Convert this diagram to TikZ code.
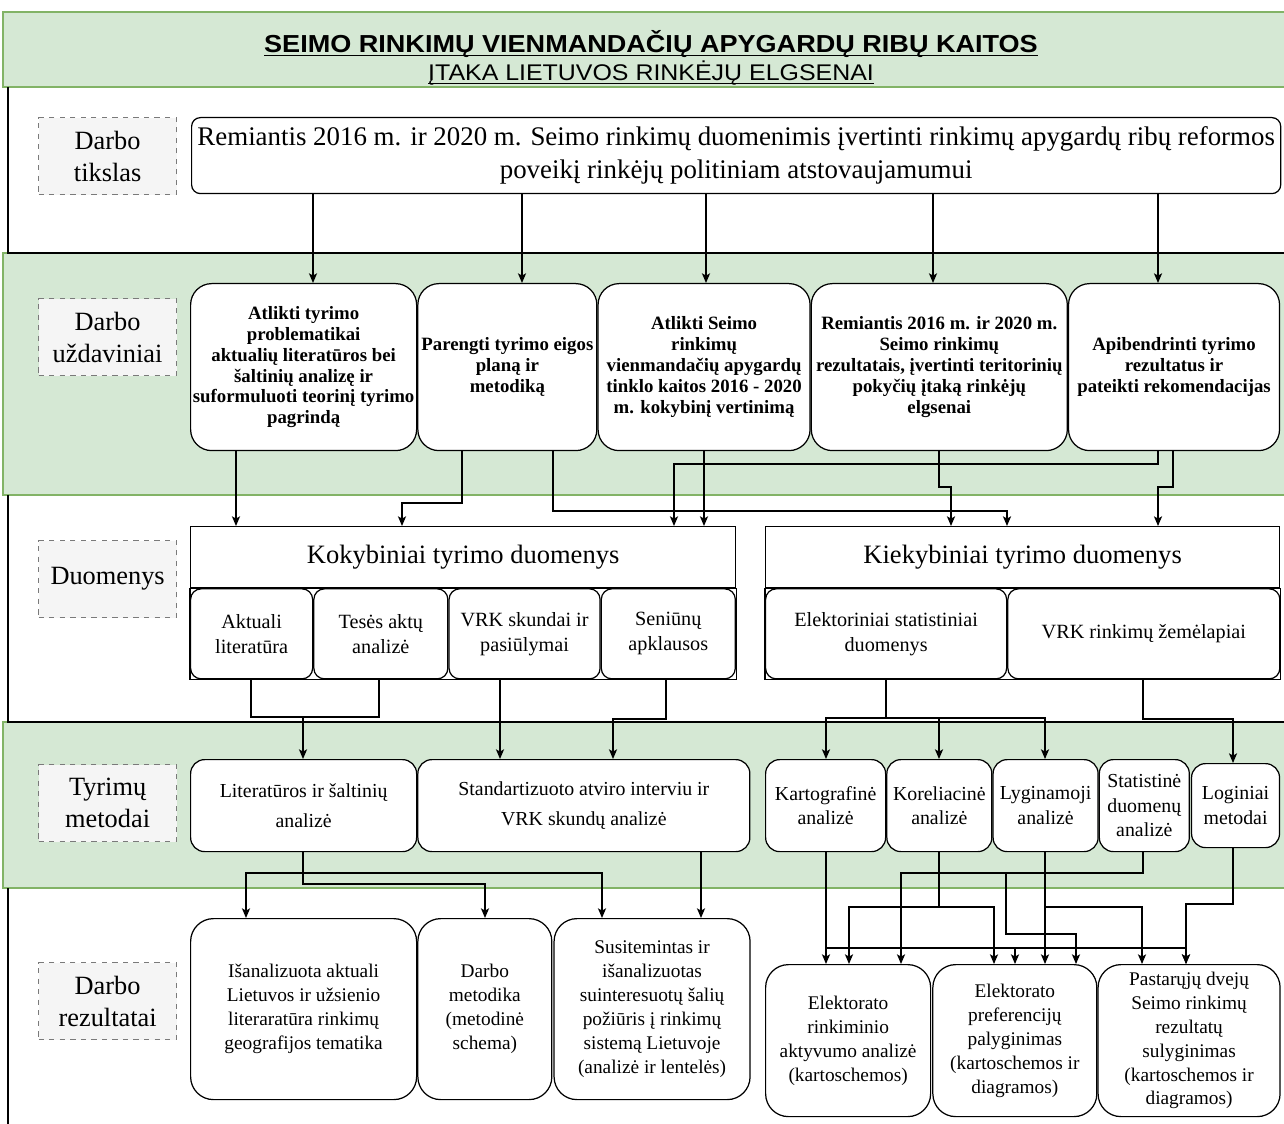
\documentclass[tikz,border=0pt]{standalone}
\usepackage{fontspec}
\setmainfont{Liberation Serif}
\newfontfamily\headfont[FakeStretch=1.1]{Liberation Sans}
\usepackage{tikz}
\usetikzlibrary{arrows.meta,calc,positioning}

\newlength\px
\setlength\px{0.02cm}

\definecolor{bandfill}{HTML}{D5E8D4}
\definecolor{bandline}{HTML}{82B366}
\definecolor{lblfill}{HTML}{F5F5F5}
\definecolor{lbldraw}{HTML}{7A7A7A}

\newcommand\ulx[1]{\underline{\smash{#1}\vphantom{A}}}
\newcommand\titlesize{\headfont\fontsize{14}{15.9}\selectfont\lineskiplimit-20pt\relax}

\tikzset{%
	band/.style     = {fill=bandfill, draw=bandline, line width=1.1pt}, % green row
	rowline/.style  = {draw=black, line width=1.2pt}, % white row border
	rowlabel/.style = {draw=lbldraw, dashed, fill=lblfill, anchor=north west, minimum width=138\px, minimum height=77\px, align=center, font=\fontsize{15}{18.1}\selectfont}, % Row title
	goalbox/.style  = {draw, fill=white, rounded corners=5pt, anchor=north west, align=center, font=\fontsize{15.3}{18.7}\selectfont},
	task/.style     = {draw, fill=white, rounded corners=12pt, anchor=north west, minimum height=167\px, align=center, inner sep=1pt, font=\bfseries\fontsize{10.7}{11.9}\selectfont},
	head/.style     = {draw, fill=white, rectangle, anchor=north west, minimum height=61\px, font=\fontsize{15.1}{18}\selectfont},
	src/.style      = {draw, fill=white, rounded corners=6pt, anchor=north west, minimum height=90\px, align=center, inner sep=1pt, font=\fontsize{11.5}{14.2}\selectfont},
	meth/.style     = {draw, fill=white, rounded corners=8pt, anchor=north west, minimum height=92\px, align=center, inner sep=1pt, font=\fontsize{11.3}{14}\selectfont},
	res/.style      = {draw, fill=white, rounded corners=13pt, anchor=north west, align=center, inner sep=1pt, font=\fontsize{11}{13.6}\selectfont},
}

\begin{document}
\begin{tikzpicture}[x=0.02cm, y=-0.02cm, line width=0.7pt, >={Stealth[length=5.5pt,width=4.6pt,inset=1.3pt]}]
\useasboundingbox (0,0) rectangle (1284,1124);

% rows
\path[band] (3,12) rectangle (1300,87);
\path[band] (3,253) rectangle (1300,495);
\path[band] (3,722) rectangle (1300,888);
\draw[rowline] (8,87) -- (8,253) -- (1300,253);
\draw[rowline] (8,495) -- (8,722) -- (1300,722);
\draw[rowline] (8,888) -- (8,1130);

\node[align=center, font=\titlesize] (title) at (651,60)
	{\ulx{\bfseries SEIMO RINKIMŲ VIENMANDAČIŲ APYGARDŲ RIBŲ KAITOS}\\ \ulx{\fontsize{12.9}{15.9}\selectfont ĮTAKA LIETUVOS RINKĖJŲ ELGSENAI}};

\node[rowlabel] (lbtikslas) at (38,117) {Darbo\\ tikslas};
\node[rowlabel] (lbuzd) at (38,298) {Darbo\\ uždaviniai};
\node[rowlabel] (lbduom) at (38,540) {Duomenys};
\node[rowlabel] (lbmet) at (38,764) {Tyrimų\\ metodai};
\node[rowlabel] (lbrez) at (38,962) {Darbo\\ rezultatai};

\node[goalbox, minimum width=1088\px, minimum height=76\px] (goal) at (191,117)
	{Remiantis 2016 m. ir 2020 m. Seimo rinkimų duomenimis įvertinti rinkimų apygardų ribų reformos\\ poveikį rinkėjų politiniam atstovaujamumui};

% uzdaviniai
\node[task, minimum width=226\px] (t1) at (190,283) {Atlikti tyrimo\\ problematikai\\ aktualių literatūros bei\\ šaltinių analizę ir\\ suformuluoti teorinį tyrimo\\ pagrindą};
\node[task, minimum width=179\px, right=0pt of t1] (t2) {Parengti tyrimo eigos\\ planą ir\\ metodiką};
\node[task, minimum width=212\px, right=0pt of t2] (t3) {Atlikti Seimo\\ rinkimų\\ vienmandačių apygardų\\ tinklo kaitos 2016 - 2020\\ m. kokybinį vertinimą};
\node[task, minimum width=256\px, right=0pt of t3] (t4) {Remiantis 2016 m. ir 2020 m.\\ Seimo rinkimų\\ rezultatais, įvertinti teritorinių\\ pokyčių įtaką rinkėjų\\ elgsenai};
\node[task, minimum width=211\px, right=0pt of t4] (t5) {Apibendrinti tyrimo\\ rezultatus ir\\ pateikti rekomendacijas};

% duomenys
\node[head, minimum width=545\px] (kok) at (190,526) {Kokybiniai tyrimo duomenys};
\node[head, minimum width=514\px] (kiek) at (765,526) {Kiekybiniai tyrimo duomenys};
\node[src, minimum width=122\px] (d1) at (kok.south west) {Aktuali\\ literatūra};
\node[src, minimum width=134\px, right=0pt of d1] (d2) {Tesės aktų\\ analizė};
\node[src, minimum width=151\px, right=0pt of d2] (d3) {VRK skundai ir\\ pasiūlymai};
\node[src, minimum width=134\px, right=0pt of d3] (d4) {Seniūnų\\ apklausos};
\node[src, minimum width=241\px] (e1) at (kiek.south west) {Elektoriniai statistiniai\\ duomenys};
\node[src, minimum width=272\px, right=0pt of e1] (e2) {VRK rinkimų žemėlapiai};
\draw (kok.south west) rectangle (kok.east |- d4.south);
\draw (kiek.south west) rectangle (kiek.east |- e2.south);

% metodai
\node[meth, minimum width=226\px, font=\fontsize{11.3}{17}\selectfont] (m1) at (190,759) {Literatūros ir šaltinių\\ analizė};
\node[meth, minimum width=332\px, font=\fontsize{11.3}{17}\selectfont, right=0pt of m1] (m2) {Standartizuoto atviro interviu ir\\ VRK skundų analizė};
\node[meth, minimum width=120\px] (k1) at (765,759) {Kartografinė\\ analizė};
\node[meth, minimum width=105\px, right=0pt of k1] (k2) {Koreliacinė\\ analizė};
\node[meth, minimum width=105\px, right=0pt of k2] (k3) {Lyginamoji\\ analizė};
\node[meth, minimum width=90\px, right=0pt of k3] (k4) {Statistinė\\ duomenų\\ analizė};
\node[meth, minimum width=88\px, minimum height=84\px, right=1\px of k4] (k5) {Loginiai\\ metodai};

% rezultatai
\node[res, minimum width=226\px, minimum height=181\px] (r1) at (190,918) {Išanalizuota aktuali\\ Lietuvos ir užsienio\\ literaratūra rinkimų\\ geografijos tematika};
\node[res, minimum width=134\px, minimum height=181\px, right=0pt of r1] (r2) {Darbo\\ metodika\\ (metodinė\\ schema)};
\node[res, minimum width=196\px, minimum height=181\px, right=1\px of r2] (r3) {Susitemintas ir\\ išanalizuotas\\ suinteresuotų šalių\\ požiūris į rinkimų\\ sistemą Lietuvoje\\ (analizė ir lentelės)};
\node[res, minimum width=165\px, minimum height=152\px] (q1) at (765,964) {Elektorato\\ rinkiminio\\ aktyvumo analizė\\ (kartoschemos)};
\node[res, minimum width=164\px, minimum height=152\px, right=1\px of q1] (q2) {Elektorato\\ preferencijų\\ palyginimas\\ (kartoschemos ir\\ diagramos)};
\node[res, minimum width=182\px, minimum height=152\px, right=0pt of q2] (q3) {Pastarųjų dvejų\\ Seimo rinkimų\\ rezultatų\\ sulyginimas\\ (kartoschemos ir\\ diagramos)};

% tikslas -> uzdaviniai
\foreach \x/\t in {313/t1, 522/t2, 706/t3, 933/t4, 1158/t5}
	\draw[->] (\x,0 |- goal.south) -- (\x,0 |- \t.north);

% uzdaviniai -> duomenys
\draw[->] (236,0 |- t1.south) -- (236,0 |- kok.north);
\draw[->] (462,0 |- t2.south) |- (402,503) -- (402,0 |- kok.north);
\draw[->] (553,0 |- t2.south) |- (1007,511) -- (1007,0 |- kiek.north);
\draw[->] (704,0 |- t3.south) -- (704,0 |- kok.north);
\draw[->] (1158,0 |- t5.south) |- (674,464) -- (674,0 |- kok.north);
\draw[->] (939,0 |- t4.south) |- (951,487) -- (951,0 |- kiek.north);
\draw[->] (1173,0 |- t5.south) |- (1158,487) -- (1158,0 |- kiek.north);

% duomenys -> metodai
\draw[->] (251,0 |- d1.south) |- (303,717) -- (303,0 |- m1.north);
\draw (379,0 |- d2.south) |- (303,717);
\draw[->] (500,0 |- d3.south) -- (500,0 |- m2.north);
\draw[->] (666,0 |- d4.south) |- (613,719) -- (613,0 |- m2.north);
\draw[->] (886,0 |- e1.south) |- (826,718) -- (826,0 |- k1.north);
\draw[->] (886,0 |- e1.south) |- (939,718) -- (939,0 |- k2.north);
\draw[->] (886,0 |- e1.south) |- (1045,718) -- (1045,0 |- k3.north);
\draw[->] (1143,0 |- e2.south) |- (1233,719) -- (1233,0 |- k5.north);

% metodai -> rezultatai
\draw[->] (303,0 |- m1.south) |- (246,873) -- (246,0 |- r1.north);
\draw[->] (303,0 |- m1.south) |- (602,873) -- (602,0 |- r3.north);
\draw[->] (303,0 |- m1.south) |- (485,884) -- (485,0 |- r2.north);
\draw[->] (701,0 |- m2.south) -- (701,0 |- r3.north);
\draw[->] (826,0 |- k1.south) -- (826,0 |- q1.north);
\draw[->] (826,0 |- k1.south) |- (1015,948) -- (1015,0 |- q2.north);
\draw[->] (826,0 |- k1.south) |- (1186,948) -- (1186,0 |- q3.north);
\draw[->] (939,0 |- k2.south) |- (849,907) -- (849,0 |- q1.north);
\draw[->] (939,0 |- k2.south) |- (994,907) -- (994,0 |- q2.north);
\draw[->] (1045,0 |- k3.south) -- (1045,0 |- q2.north);
\draw[->] (1045,0 |- k3.south) |- (1142,907) -- (1142,0 |- q3.north);
\draw[->] (1143,0 |- k4.south) |- (901,873) -- (901,0 |- q1.north);
\draw[->] (1143,0 |- k4.south) |- (1006,873) |- (1076,934) -- (1076,0 |- q2.north);
\draw[->] (1233,0 |- k5.south) |- (1186,904) -- (1186,0 |- q3.north);
\end{tikzpicture}
\end{document}
